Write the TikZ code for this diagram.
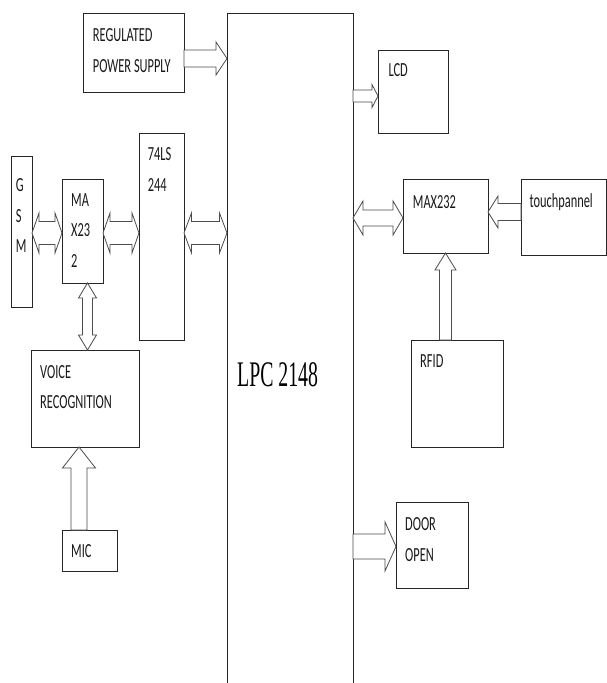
\documentclass[tikz,border=0pt]{standalone}
\usepackage{fontspec}
\setmainfont{Carlito}[FakeStretch=0.62]
\newfontfamily\lpcfont{Liberation Serif}[FakeStretch=0.55]
\usetikzlibrary{calc}
\tikzset{
  box/.style={draw=black!85, line width=0.9pt, inner sep=0pt, outer sep=0pt, anchor=north west},
  lbl/.style={inner sep=0pt, anchor=base west, font=\fontsize{20}{30}\selectfont, text=black!90},
  blk/.style={draw=black!70, line width=0.8pt, fill=white, line join=miter}
}
% right arrow: from, to, y, shaft half, head half, head length
\newcommand\rarr[6]{\draw[blk] let \p1=(#1 |- 0,#3), \p2=(#2 |- 0,#3) in
 (\x1,\y1+#4pt) -- (\x2-#6pt,\y1+#4pt) -- (\x2-#6pt,\y1+#5pt) -- (\x2,\y1) -- (\x2-#6pt,\y1-#5pt) -- (\x2-#6pt,\y1-#4pt) -- (\x1,\y1-#4pt) -- cycle;}
% left arrow
\newcommand\larr[6]{\draw[blk] let \p1=(#1 |- 0,#3), \p2=(#2 |- 0,#3) in
 (\x1,\y1+#4pt) -- (\x2+#6pt,\y1+#4pt) -- (\x2+#6pt,\y1+#5pt) -- (\x2,\y1) -- (\x2+#6pt,\y1-#5pt) -- (\x2+#6pt,\y1-#4pt) -- (\x1,\y1-#4pt) -- cycle;}
% double horizontal arrow (left to right)
\newcommand\darr[6]{\draw[blk] let \p1=(#1 |- 0,#3), \p2=(#2 |- 0,#3) in
 (\x1,\y1) -- (\x1+#6pt,\y1+#5pt) -- (\x1+#6pt,\y1+#4pt) -- (\x2-#6pt,\y1+#4pt) -- (\x2-#6pt,\y1+#5pt) -- (\x2,\y1) -- (\x2-#6pt,\y1-#5pt) -- (\x2-#6pt,\y1-#4pt) -- (\x1+#6pt,\y1-#4pt) -- (\x1+#6pt,\y1-#5pt) -- cycle;}
% up arrow: from (bottom), to (top), x
\newcommand\uarr[6]{\draw[blk] let \p1=(#1 -| #3,0), \p2=(#2 -| #3,0) in
 (\x1-#4pt,\y1) -- (\x1-#4pt,\y2-#6pt) -- (\x1-#5pt,\y2-#6pt) -- (\x1,\y2) -- (\x1+#5pt,\y2-#6pt) -- (\x1+#4pt,\y2-#6pt) -- (\x1+#4pt,\y1) -- cycle;}
% double vertical arrow: from (top), to (bottom), x
\newcommand\vdarr[6]{\draw[blk] let \p1=(#1 -| #3,0), \p2=(#2 -| #3,0) in
 (\x1,\y1) -- (\x1+#5pt,\y1-#6pt) -- (\x1+#4pt,\y1-#6pt) -- (\x1+#4pt,\y2+#6pt) -- (\x1+#5pt,\y2+#6pt) -- (\x1,\y2) -- (\x1-#5pt,\y2+#6pt) -- (\x1-#4pt,\y2+#6pt) -- (\x1-#4pt,\y1-#6pt) -- (\x1-#5pt,\y1-#6pt) -- cycle;}
\newcommand\bx[5]{\node[box, minimum width=#4pt, minimum height=#5pt] (#1) at (#2,#3) {};}
\begin{document}
\begin{tikzpicture}[x=1pt,y=-1pt]
\useasboundingbox (0,0) rectangle (607,683);
% boxes
\bx{psu}{83}{13}{101}{79}
\node[inner sep=0pt, outer sep=0pt, anchor=north west, minimum width=126pt, minimum height=670pt] (lpc) at (227,13) {};
\draw[draw=black!85, line width=0.9pt] (lpc.south west) -- (lpc.north west) -- (lpc.north east) -- (lpc.south east);
\bx{lcd}{378}{50}{70}{83}
\bx{maxr}{403}{179}{85}{74}
\bx{touch}{521}{179}{85}{76}
\bx{rfid}{411}{340}{92}{107}
\bx{door}{396}{502}{72}{86}
\bx{gsm}{11}{156}{21}{151}
\bx{maxl}{62}{179}{41}{104}
\bx{ls}{139}{133}{45}{207}
\bx{voice}{31}{350}{108}{97}
\bx{mic}{62}{530}{55}{41}
% labels
\node[lbl] (psuA) at (92.7,41.7) {REGULATED};
\node[lbl] (psuB) at (92.7,72.7) {POWER SUPPLY};
\node[inner sep=0pt, anchor=base west, font=\lpcfont\fontsize{36}{40}\selectfont] (lpcT) at (237,386.7) {LPC 2148};
\node[lbl] (lcdT) at (388.3,76.7) {LCD};
\node[lbl] (maxrT) at (412.7,208.3) {MAX232};
\node[lbl] (touchT) at (529.3,207.3) {touchpannel};
\node[lbl] (rfidT) at (420,367) {RFID};
\node[lbl] (doorA) at (405,530.7) {DOOR};
\node[lbl] (doorB) at (405,561) {OPEN};
\node[lbl] (gsmA) at (15.7,191.7) {G};
\node[lbl] (gsmB) at (15.7,222) {S};
\node[lbl] (gsmC) at (15.7,252) {M};
\node[lbl] (maxlA) at (71,206) {MA};
\node[lbl] (maxlB) at (71,236) {X23};
\node[lbl] (maxlC) at (71,267) {2};
\node[lbl] (lsA) at (147.7,160.7) {74LS};
\node[lbl] (lsB) at (147.7,191.7) {244};
\node[lbl] (voiceA) at (40,378) {VOICE};
\node[lbl] (voiceB) at (40,408) {RECOGNITION};
\node[lbl] (micT) at (71,557.7) {MIC};
% block arrows
\rarr{psu.east}{lpc.west}{58.5}{8.5}{16.5}{11}
\rarr{lpc.east}{lcd.west}{96}{6}{11.5}{6}
\darr{lpc.east}{maxr.west}{218}{8}{17}{10}
\larr{touch.west}{maxr.east}{212}{8.5}{16}{10}
\uarr{rfid.north}{maxr.south}{445.5}{6}{10.5}{17}
\rarr{lpc.east}{door.west}{546.5}{12.5}{24.5}{11}
\darr{gsm.east}{maxl.west}{233}{11.5}{20}{7}
\darr{maxl.east}{ls.west}{233}{11.5}{20}{7}
\darr{ls.east}{lpc.west}{233}{11.5}{20}{7.5}
\vdarr{maxl.south}{voice.north}{87.5}{5}{9}{15}
\uarr{mic.north}{voice.south}{79}{8}{16.5}{21}
\end{tikzpicture}
\end{document}
